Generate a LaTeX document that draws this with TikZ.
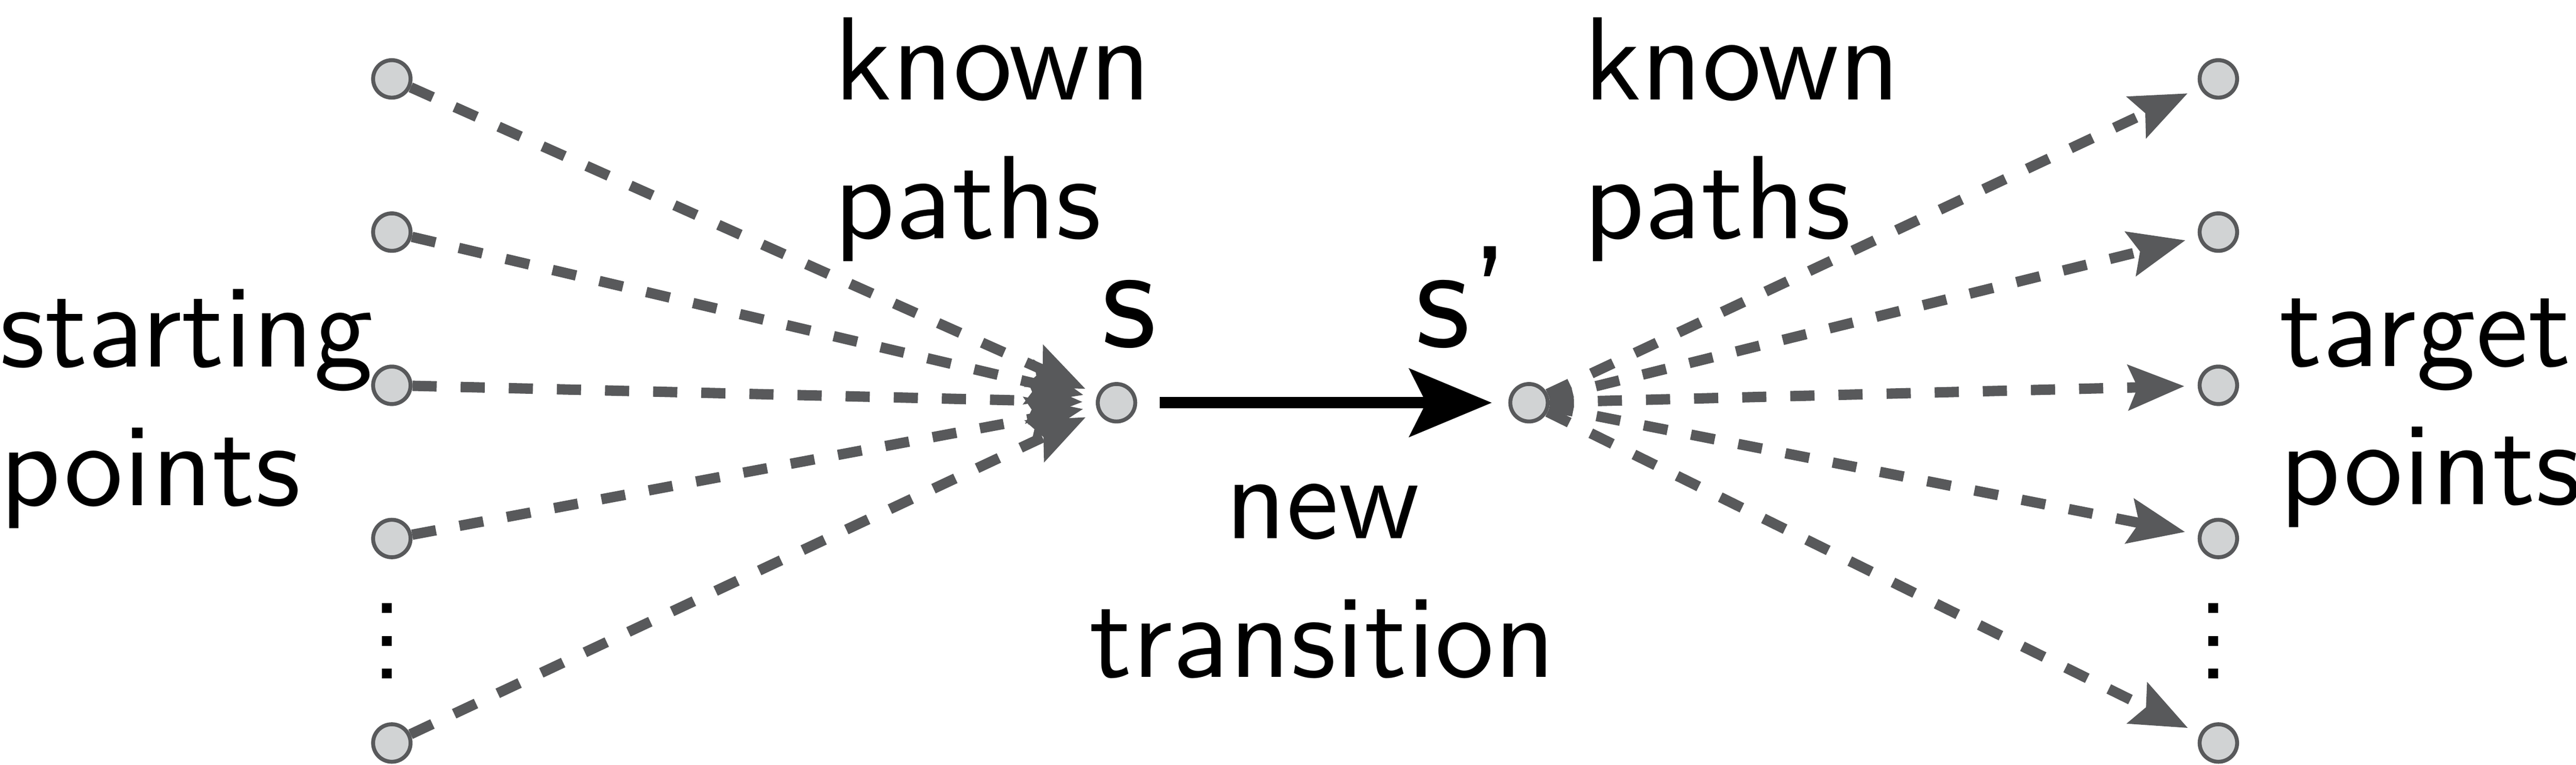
\documentclass[tikz,border=0pt]{standalone}
\usepackage{fontspec}
\setsansfont{lmsans10-regular.otf}
\usetikzlibrary{arrows.meta}

\definecolor{pathgray}{HTML}{58595B}
\definecolor{dotgray}{HTML}{D1D3D4}
\newcommand{\colvdots}{\vbox{\baselineskip=0.2cm\lineskiplimit=0pt\hbox{.}\hbox{.}\hbox{.}}}

\begin{document}
\begin{tikzpicture}[
    font=\sffamily\fontsize{20.5}{24}\selectfont,
    state/.style={circle, draw=pathgray, fill=dotgray, line width=0.024cm, inner sep=0, minimum size=0.228cm},
    known/.style={draw=pathgray, line width=0.063cm, dash pattern=on 0.147cm off 0.146cm,
      -{Stealth[length=0.34cm, width=0.27cm, inset=0.055cm]}, shorten >=0.08cm},
    newstep/.style={line width=0.07cm, -{Stealth[length=0.5cm, width=0.41cm, inset=0.1cm]},
      shorten <=0.138cm, shorten >=0.1cm},
    txt/.style={inner sep=0, align=left, anchor=base west},
    biglabel/.style={inner sep=0, anchor=base, font=\sffamily\fontsize{25}{30}\selectfont}
  ]
  \useasboundingbox (0,0) rectangle (15.68,4.652);

  % starting and target points
  \foreach \i/\y in {1/4.172, 2/3.240, 3/2.308, 4/1.376, 5/0.132} {
    \node[state] (l\i) at (2.385,\y) {};
    \node[state] (r\i) at (13.503,\y) {};
  }
  \node[inner sep=0, anchor=base] (ldots) at (2.356,0.522) {\colvdots};
  \node[inner sep=0, anchor=base] (rdots) at (13.474,0.522) {\colvdots};

  \node[state] (s) at (6.796,2.202) {};
  \node[state] (s2) at (9.307,2.202) {};

  \foreach \i in {1,...,5} {
    \draw[known] (l\i) -- (s);
    \draw[known] (s2) -- (r\i);
  }
  \draw[newstep] (s) -- (s2);

  % labels (base = last line)
  \node[biglabel] (slabel) at (6.87,2.542) {s};
  \node[biglabel] (s2label) at (8.903,2.542) {s'};
  \node[txt] (starting) at (-0.01,1.577) {starting\\points};
  \node[txt] (known1) at (5.07,3.202) {known\\paths};
  \node[txt] (known2) at (9.63,3.202) {known\\paths};
  \node[txt, align=center, anchor=base] (newtr) at (8.05,0.532) {new\\transition};
  \node[txt] (target) at (13.868,1.582) {target\\points};
\end{tikzpicture}
\end{document}
